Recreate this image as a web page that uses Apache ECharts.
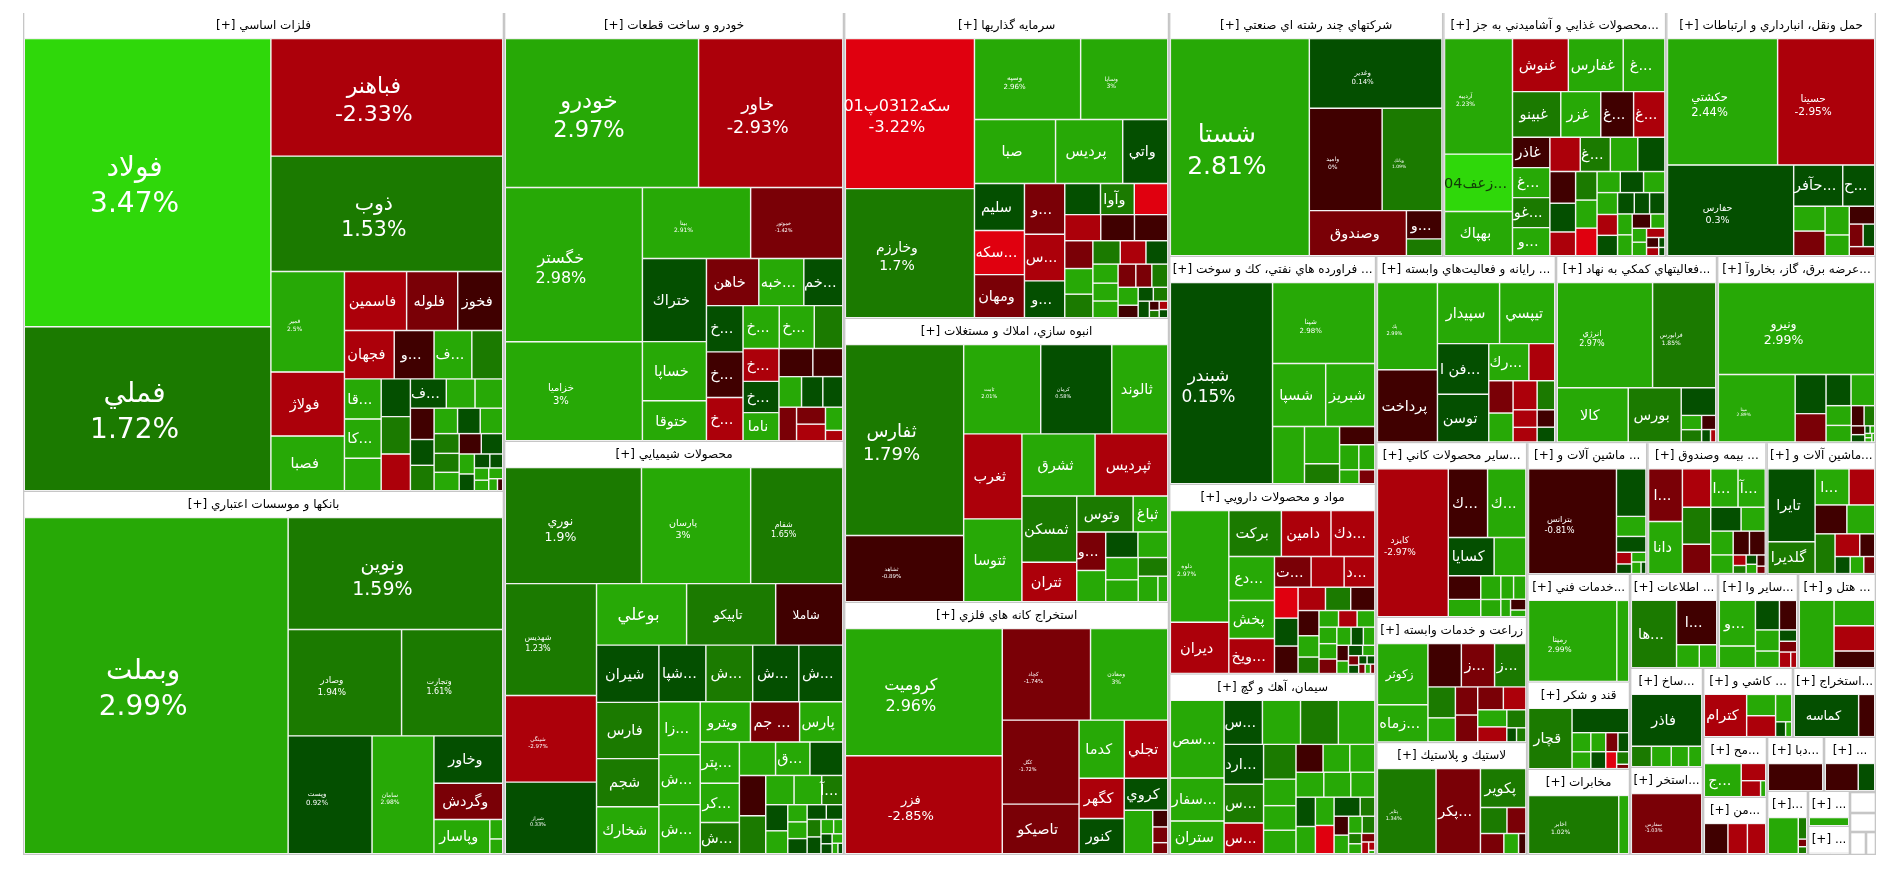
<!DOCTYPE html>
<html dir="rtl">
<head>
<meta charset="utf-8">
<style>html,body{margin:0;padding:0;background:#fff}#c{position:absolute;left:0;top:0;width:1900px;height:873px}</style>
<script src="https://cdn.jsdelivr.net/npm/echarts@6/dist/echarts.min.js"></script>
</head>
<body>
<div id="c"></div>
<script>
const sectorTitles = [
'فلزات اساسي [+]','بانكها و موسسات اعتباري [+]','خودرو و ساخت قطعات [+]','محصولات شيميايي [+]','سرمايه گذاريها [+]','انبوه سازي، املاك و مستغلات [+]','استخراج كانه هاي فلزي [+]',
'شركتهاي چند رشته اي صنعتي [+]','...محصولات غذايي و آشاميدني به جز [+]','حمل ونقل، انبارداري و ارتباطات [+]','... فراورده هاي نفتي، كك و سوخت [+]','مواد و محصولات دارويي [+]','سيمان، آهك و گچ [+]',
'... رايانه و فعاليت‌هاي وابسته [+]','...فعاليتهاي كمكي به نهاد [+]','...عرضه برق، گاز، بخاروآ [+]','...ساير محصولات كاني [+]','زراعت و خدمات وابسته [+]','لاستيك و پلاستيك [+]',
'... ماشين آلات و [+]','... بيمه وصندوق [+]','...ماشين آلات و [+]','...خدمات فني [+]','قند و شكر [+]','مخابرات [+]','... اطلاعات [+]','...ساير وا [+]','... هتل و [+]','...ساخ [+]','...استخر [+]','... كاشي و [+]','...استخراج [+]','...مح [+]','...من [+]','...دبا [+]','... [+]','...[+]','... [+]','... [+]','','','',''];
const sectorSizes = [230400,174600,145900,140400,99450,92300,81900,66900,54400,51200,47200,39300,37300,33500,30000,29600,26400,18900,16900,15800,15700,14400,11100,8960,8750,8270,7520,7330,7230,6350,6210,5730,3840,3650,3080,2810,2580,1470,1176,546,494,368,230];

const stockNames = [
['فولاد','فملي','فباهنر','ذوب','فمير','فولاژ','فصبا','فاسمين','فلوله','فخوز','فجهان','...و','...ف','','...قا','...كا','','','','','...ف','','','','','','','','','','','','','','','','','','','','','',''],
['وبملت','ونوين','وصادر','وتجارت','وپست','سامان','وخاور','وگردش','وپاسار','',''],
['خودرو','خاور','خگستر','خزاميا','بينا','خموتور','ختراك','خساپا','ختوقا','خاهن','...خبه','...خم','...خ','...خ','...خ','...خ','...خ','','...خ','...خ','ناما','','','','','','','','','','',''],
['نوري','پارسان','شفام','شهديس','شپنگي','شيراز','بوعلي','تاپيكو','شاملا','شيران','فارس','شجم','شخارك','...شپا','...ش','...ش','...ش','...زا','...ش','...ش','ويترو','... جم','پارس','...پتر','...كر','...ش','','...ق','','','','','','...آ','','','','','','','','','','','','','','','','',''],
['سكه0312پ01','وخارزم','وسپه','وسايا','صبا','پرديس','واتي','سليم','...سكه','ومهان','...و','...س','...و','','وآوا','','','','','','','','','','','','','','','','','','','','','','','','','',''],
['ثفارس','ثشاهد','ثامت','كرمان','ثالوند','ثغرب','ثتوسا','ثشرق','ثپرديس','ثمسكن','ثتران','وتوس','ثباغ','...و','','','','','','','',''],
['كروميت','فزر','كچاد','ومعادن','كگل','تاصيكو','كدما','تجلي','كگهر','كنور','كروي','','','',''],
['شستا','وغدير','واميد','وبانك','وصندوق','...و',''],
['آرديبه','...زعف04','بهپاك','غنوش','غفارس','...غ','غبينو','غزر','...غ','...غ','غاذر','...غو','...غ','...و','','...غ','','','','','','','','','','','','','','','','','','','','','','','','','','','','','',''],
['حكشتي','حسينا','حفارس','...حآفر','...ح','','','','','','','',''],
['شبندر','شپنا','شسپا','شبريز','','','','','','','',''],
['دلوه','ديران','بركت','دامين','...دك','...دع','پخش','...ويخ','...ت','','...د','','','','','','','','','','','','','','','','','','','','','','','','','','','',''],
['...سص','...سفار','ستران','...س','','','','...ارد','...س','...س','','','','','','','','','','','','','','','','','','','','','','','','',''],
['پك','پرداخت','سپيدار','تيپسي','...فن ا','توسن','...رك','','','','','','','','',''],
['انرژي','فرابورس','كالا','بورس','','','','','','',''],
['ونيرو','مپنا','','','','','','','','','','','','','','',''],
['كايزد','...ك','...ك','كسايا','','','','','','','','','',''],
['زكوثر','...زماه','','...ز','...ز','','','','','','','','','','',''],
['پتاير','...پكر','پكوير','','','','',''],
['بترانس','','','','','','','',''],
['...ا','دانا','','','...آ','...ا','','','','','','','','','','','','',''],
['تايرا','گلديرا','...ا','','','','','','','','',''],
['رمپنا',''],
['قچار','','','','','','','','','',''],
['اخابر',''],
['...ها','...ا','',''],
['...و','','','','','','','','',''],
['','','',''],
['فاذر','','','',''],
['سفارس'],
['كترام','','','','',''],
['كماسه',''],
['...ج','','',''],
['','',''],
[''],
['',''],
['','','',''],
[''],
['',''],
[],[],[],[]
];
const stockSizes = [
[70900,40340,27200,26700,7370,4700,4015,3660,3010,2650,2400,1920,1820,1490,1470,1440,1190,1100,1090,1070,1050,840,810,740,610,600,595,575,570,495,475,460,450,435,303,254,215,180,175,150,150,105,63],
[88200,23900,12000,10700,9830,7250,3240,2480,1900,250,190],
[28760,21460,21100,13560,7670,6530,5310,3780,2560,2460,2115,1830,1690,1670,1580,1550,1500,1220,1180,1120,1010,950,840,690,650,610,590,490,480,400,180],
[15640,12540,10580,10100,7830,6460,5490,5430,4090,3530,3470,2970,2900,2630,2620,2580,2460,2170,2050,2010,2000,1960,1720,1600,1520,1210,1200,1140,1090,1050,990,820,800,610,570,500,330,320,290,280,240,240,230,180,130,110,110,100,60,50],
[19350,16640,8590,7050,5180,4290,2880,2350,2200,2150,2040,1880,1480,1110,1050,1040,940,880,870,780,720,660,640,600,510,480,450,420,410,370,370,360,250,210,200,185,90,72,72,70],
[22500,7790,6850,6320,4980,4930,4800,4530,4500,3620,2150,2020,1240,1110,900,820,760,720,710,550,500,250],
[19780,15230,8010,7010,6390,3770,2610,2500,1800,1575,1380,1230,250,235,165],
[30160,9240,7450,6120,4370,1000,600],
[7700,3820,2950,2912,2860,2170,2160,1790,1470,1400,1110,1100,1100,1030,1020,1010,920,910,800,725,600,600,590,580,480,480,440,440,420,410,350,320,320,300,300,260,200,195,190,165,120,98,60,50],
[13860,12220,11375,2010,1310,775,770,690,500,450,310,260,230],
[20500,8260,3340,3090,1820,1300,700,640,480,400,270,220],
[6440,2960,2385,2250,1990,1980,1710,1575,1110,1000,930,720,650,640,630,580,555,520,440,340,320,305,290,290,270,255,255,220,205,180,145,145,125,95,85,70,65,60,50,40],
[4030,2230,1700,1630,1620,1610,1550,1520,1480,1170,1090,830,770,735,730,720,675,670,650,580,550,510,510,510,480,270,265,260,225,210,130,125,110,80,50,20],
[5130,4250,3720,3300,2550,2400,1460,940,770,690,685,500,414,345,300,255],
[9975,6615,3830,2860,950,290,250,200,110,65],
[14440,5200,1210,880,780,740,500,420,260,215,120,100,40,35,30,30,25],
[10150,2610,2550,1700,1180,740,545,460,335,290,280,165,160,100],
[3050,1850,1430,1420,1340,840,650,620,590,580,510,490,430,340,135,130],
[4700,3560,1665,650,465,445,280,140],
[8870,1350,570,450,170,140,135,105,55],
[1700,1680,1040,1000,1000,1000,790,690,550,510,400,370,360,130,100,95,95,90,60],
[3340,1460,1190,900,890,780,770,545,330,250,225,180],
[7080,960],
[2490,1310,340,300,270,240,220,195,175,145,50],
[5040,560],
[2860,1680,490,375],
[1580,750,680,490,485,380,190,180,170,90],
[2210,975,970,640],
[3520,395,390,340,260],
[3950],
[1680,580,570,415,140,85],
[2560,640],
[1190,410,300,80],
[630,520,490],
[1300],
[800,400],
[1015,170,60,55],
[234],
[90,80],
[],[],[],[]
];
const stockChanges = [
[3.47,1.72,-2.33,1.53,2.5,-2.5,2.5,-2.5,-1.5,-0.5,-2.5,-0.5,2.5,1.5,2.5,2.5,2.5,0.5,1.5,-2.5,0.5,2.5,2.5,-0.5,0.5,1.5,2.5,0.5,2.5,1.5,1.5,2.5,-0.5,0.5,2.5,0.5,0.5,0.5,2.5,2.5,2.5,2.5,-0.5],
[2.99,1.59,1.94,1.61,0.92,2.98,0.5,-1.5,2.5,2.5,2.5],
[2.97,-2.93,2.98,3,2.91,-1.42,0.5,2.5,2.5,-1.5,2.5,0.5,0.5,-0.5,-2.5,2.5,2.5,1.5,-2.5,0.5,2.5,-0.5,-0.5,2.5,0.5,0.5,-1.5,-1.5,-2.5,2.5,-2.5],
[1.9,3,1.65,1.23,-2.97,0.33,2.5,1.5,-0.5,0.5,1.5,1.5,2.5,0.5,1.5,0.5,0.5,2.5,2.5,2.5,2.5,-1.5,2.5,2.5,2.5,1.5,2.5,2.5,0.5,-0.5,1.5,2.5,2.5,1.5,0.5,2.5,2.5,2.5,0.5,0.5,1.5,0.5,0.5,2.5,2.5,0.5,0.5,2.5,2.5,0.5],
[-3.22,1.7,2.96,3,2.5,2.5,0.5,0.5,-3.5,-1.5,-1.5,-2.5,0.5,0.5,1.5,-3.5,-2.5,-0.5,-0.5,-1.5,2.5,1.5,1.5,-2.5,0.5,2.5,2.5,2.5,-1.5,1.5,-1.5,2.5,-0.5,0.5,1.5,0.5,-0.5,-2.5,1.5,0.5],
[1.79,-0.89,2.01,0.58,2.5,-2.5,2.5,2.5,-2.5,1.5,-2.5,1.5,2.5,-1.5,2.5,0.5,2.5,2.5,2.5,1.5,2.5,2.5],
[2.96,-2.85,-1.74,3,-1.72,-1.5,2.5,-2.5,-2.5,0.5,0.5,2.5,-0.5,-1.5,-1.5],
[2.81,0.14,0,1.09,-1.5,-0.5,1.5],
[2.23,3.5,2.5,-2.5,2.5,2.5,1.5,2.5,-0.5,-2.5,-0.5,1.5,2.5,2.5,-2.5,1.5,2.5,0.5,-0.5,0.5,1.5,-2.5,2.5,-3.5,0.5,2.5,2.5,2.5,-2.5,0.5,0.5,0.5,0.5,2.5,2.5,-0.5,2.5,2.5,2.5,-2.5,-0.5,-2.5,0.5,0.5],
[2.44,-2.95,0.3,0.5,0.5,2.5,-1.5,2.5,2.5,-0.5,-1.5,0.5,-1.5],
[0.15,2.98,2.5,2.5,2.5,2.5,1.5,-0.5,2.5,2.5,2.5,-1.5],
[2.97,-2.5,1.5,-2.5,-2.5,2.5,2.5,-2.5,-1.5,-2.5,-2.5,-3.5,0.5,-0.5,-2.5,1.5,-0.5,-0.5,2.5,1.5,2.5,-2.5,2.5,2.5,2.5,2.5,-1.5,0.5,2.5,-0.5,0.5,2.5,2.5,-1.5,0.5,0.5,0.5,-1.5,2.5,-1.5],
[2.5,2.5,2.5,0.5,2.5,1.5,2.5,0.5,1.5,-2.5,1.5,2.5,2.5,2.5,-0.5,2.5,2.5,2.5,2.5,2.5,0.5,-3.5,2.5,2.5,0.5,1.5,-0.5,2.5,2.5,1.5,1.5,2.5,-1.5,-2.5,-2.5,2.5],
[2.99,-0.5,2.5,2.5,0.5,0.5,2.5,-2.5,-1.5,2.5,-2.5,1.5,-2.5,-2.5,-0.5,0.5],
[2.97,1.85,2.5,1.5,0.5,2.5,1.5,-0.5,0.5,-2.5],
[2.99,2.89,0.5,-1.5,0.5,2.5,2.5,2.5,-0.5,1.5,-0.5,0.5,0.5,2.5,2.5,2.5,2.5],
[-2.97,-0.5,2.5,0.5,2.5,-0.5,2.5,2.5,2.5,2.5,2.5,2.5,-0.5,2.5],
[2.5,2.5,-0.5,-1.5,1.5,1.5,2.5,-1.5,-1.5,-1.5,-2.5,2.5,-2.5,1.5,0.5,1.5],
[1.34,-1.5,1.5,1.5,-1.5,-1.5,2.5,-0.5],
[-0.81,0.5,2.5,0.5,-2.5,0.5,2.5,2.5,0.5],
[-1.5,2.5,-2.5,1.5,2.5,2.5,-1.5,0.5,2.5,2.5,2.5,-0.5,-0.5,-2.5,1.5,2.5,0.5,-0.5,-1.5],
[0.5,1.5,2.5,-2.5,-0.5,2.5,1.5,-2.5,-0.5,0.5,2.5,-1.5],
[2.99,2.5],
[1.5,0.5,2.5,2.5,2.5,0.5,-1.5,0.5,-3.5,1.5,-1.5],
[1.02,2.5],
[1.5,-0.5,2.5,2.5],
[2.5,2.5,0.5,-0.5,2.5,2.5,0.5,-1.5,-2.5,-2.5],
[2.5,2.5,-2.5,-0.5],
[0.5,1.5,2.5,2.5,2.5],
[-1.03],
[-2.5,2.5,-2.5,2.5,0.5,2.5],
[0.5,-0.5],
[2.5,-2.5,-2.5,2.5],
[-0.5,-2.5,-2.5],
[-0.5],
[-0.5,0.5],
[2.5,1.5,-1.5,1.5],
[2.5],
[-2.5,0.5],
[],[],[],[]
];

// Size of the name + percent labels, by ticker
const pctFontSize = {'فولاد':28,'فملي':28,'فباهنر':22,'ذوب':20.5,'فمير':6,'وبملت':28,'ونوين':19,'وصادر':9,'وتجارت':8,'وپست':7,'سامان':6,
'خودرو':22.5,'خاور':17.5,'خگستر':16,'خزاميا':10,'بينا':6,'خموتور':5,'نوري':12.5,'پارسان':9.5,'شفام':8,'شهديس':8,'شپنگي':5.5,'شيراز':5,
'سكه0312پ01':16,'وخارزم':14,'وسپه':7,'وسايا':6,'ثفارس':18,'ثشاهد':5.5,'ثامت':5,'كرمان':5,'كروميت':16,'فزر':13,'كچاد':5.5,'ومعادن':6,'كگل':5,
'شستا':25,'وغدير':7,'واميد':6,'وبانك':4.5,'آرديبه':6,'حكشتي':11.5,'حسينا':10.5,'حفارس':9.5,'شبندر':17,'شپنا':7,'دلوه':6,'كايزد':9,'پك':5,
'انرژي':8,'فرابورس':6,'ونيرو':12.5,'مپنا':4.5,'بترانس':8.5,'رمپنا':7.5,'اخابر':6,'سفارس':5,'پتاير':5};
const nameFontSize = {'شاملا':12,'زكوثر':12,'كماسه':13,'تاپيكو':13,'بوعلي':16.5};
const darkLabel = {'...زعف04':'#123a08'};

function colorOf(c){
  if(c>3) return '#2fd80a';
  if(c>=2) return '#27a906';
  if(c>=1) return '#1b7a00';
  if(c>0) return '#044f00';
  if(c>-1) return '#400000';
  if(c>-2) return '#7a0006';
  if(c>-3) return '#ac000a';
  return '#e0000f';
}
const data = sectorTitles.map((title,i)=>{
  const names = stockNames[i], sizes = stockSizes[i], changes = stockChanges[i];
  const node = {name:title, value:sectorSizes[i]};
  if(!sizes.length){ node.itemStyle={color:'#fff'}; node.label={show:false}; return node; }
  node.children = sizes.map((v,j)=>{
    const n = names[j]||'', ps = pctFontSize[n];
    const leaf = {name:n, value:v, itemStyle:{color:colorOf(changes[j])}};
    if(!n) leaf.label={show:false};
    else if(ps) leaf.label={show:true,formatter:n+'\n\u200E'+changes[j]+'%',fontSize:ps,lineHeight:ps*1.28,offset:[-13,4],overflow:'none'};
    else leaf.label={show:true,formatter:n,fontSize:nameFontSize[n]||14.5,offset:[-3,1],overflow:'none',color:darkLabel[n]||'#fff'};
    return leaf;
  });
  return node;
});
const chart = echarts.init(document.getElementById('c'),null,{renderer:'canvas'});
chart.setOption({
  animation:false,
  series:[{
    type:'treemap',left:23,top:13,width:1853,height:842,
    roam:false,nodeClick:false,silent:true,
    breadcrumb:{show:false},visibleMin:0,childrenVisibleMin:0,squareRatio:1,sort:'desc',leafDepth:2,
    label:{show:true,color:'#fff',fontFamily:'DejaVu Sans',position:'inside',align:'center',verticalAlign:'middle'},
    levels:[
      {itemStyle:{borderWidth:0,gapWidth:0}},
      {itemStyle:{borderColor:'#c6c6c6',borderWidth:1.3,gapWidth:0},
       upperLabel:{show:true,height:25.5,position:'inside',color:'#000',backgroundColor:'#fff',fontFamily:'DejaVu Sans',fontSize:12,align:'center',verticalAlign:'middle',overflow:'none'}},
      {itemStyle:{borderColor:'#fff',borderWidth:0.7,gapWidth:0}}
    ],
    data
  }]
});
</script>
</body>
</html>
